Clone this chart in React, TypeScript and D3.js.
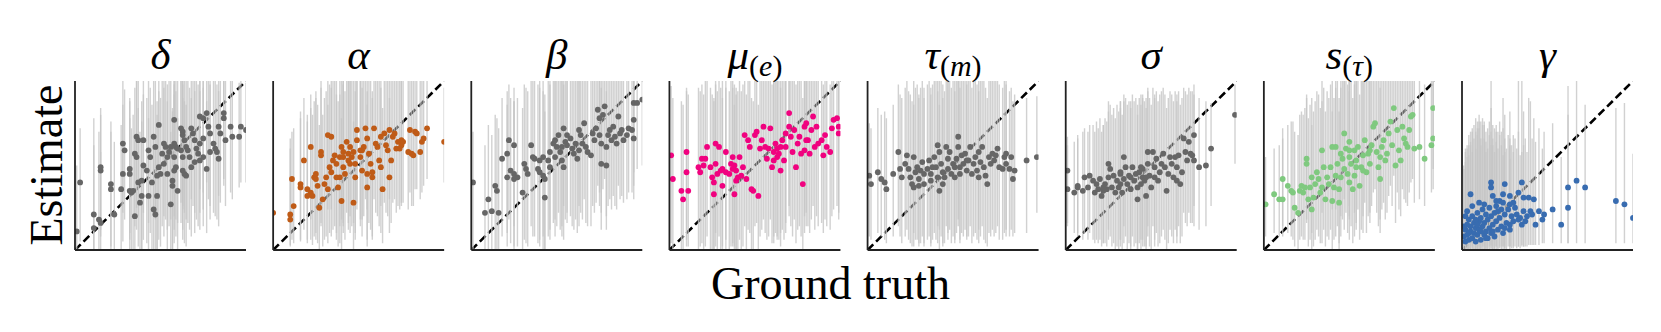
import React from "react";
import * as d3 from "d3";

// parameter panels, left to right
const panelNames = ["delta", "alpha", "beta", "mu", "tau", "sigma", "s", "gamma"];
const titleSymbols = ["δ", "α", "β", "μ", "τ", "σ", "s", "γ"];
const titleSubs = ["", "", "", "e", "m", "", "τ", ""];
const pointColors = ["#666666", "#bf5b17", "#666666", "#f0027f", "#666666", "#666666", "#7fc97f", "#386cb0"];

// [ground truth, estimate, interval low, interval high], all in percent of the axis range
const deltaPts = [
  [1,11,0,50],[3,40,5,72],[11,21,0,78],[11,13,0,62],[14,18,0,70],[15,16,0,58],[15,47,8,80],[15,49,12,84],[21,39,2,76],[21,36,0,70],
  [23,21,0,64],[28,63,22,100],[29,59,18,95],[28,45,5,86],[27,36,0,74],[32,45,6,88],[32,48,10,90],[32,35,0,78],[33,34,0,72],[34,35,0,80],
  [35,20,0,66],[36,67,25,100],[37,65,20,100],[35,57,14,96],[36,55,12,100],[37,40,2,84],[38,28,0,70],[39,41,0,88],[39,32,0,76],[40,65,22,100],
  [40,50,6,92],[42,47,4,90],[43,59,16,100],[44,55,10,96],[43,32,0,78],[45,40,0,86],[46,24,0,68],[46,67,24,100],[47,61,18,100],[47,21,0,62],
  [48,32,0,80],[49,74,30,100],[49,49,6,94],[50,45,2,90],[52,51,8,96],[51,57,14,100],[52,63,20,100],[53,61,18,100],[54,45,0,88],[55,58,14,100],
  [56,27,0,70],[57,41,0,84],[57,38,0,82],[58,47,4,92],[59,49,8,94],[58,77,34,100],[58,63,20,100],[59,61,18,100],[60,60,16,100],[60,35,0,78],
  [62,72,28,100],[63,70,26,100],[63,68,24,100],[64,65,22,100],[65,61,18,100],[66,59,16,100],[63,47,6,90],[64,45,4,88],[65,44,2,86],[68,72,30,100],
  [69,69,26,100],[70,65,22,100],[71,60,18,100],[72,57,14,98],[67,55,12,96],[73,79,36,100],[75,78,34,100],[73,53,12,94],[75,55,14,96],[77,81,40,100],
  [78,73,30,100],[79,69,26,100],[81,63,22,100],[82,60,20,100],[83,58,18,98],[84,54,14,94],[84,73,32,100],[77,48,10,88],[85,69,28,100],[87,81,42,100],
  [87,78,38,100],[88,65,26,100],[91,73,34,100],[92,67,30,100],[96,67,37,99],[97,73,40,100],[100,71,40,99],[62,59,16,100],[63,55,12,98],[56,61,18,100],
  [54,55,12,98],[73,63,22,100],[75,66,24,100],[79,58,18,98],[68,49,8,90],[70,52,10,94],[48,44,0,88],[58,55,12,98],
];

const alphaPts = [
  [0,22,0,60],[10,21,3,66],[10,18,2,60],[11,42,6,70],[12,26,4,72],[16,39,6,82],[16,37,5,78],[18,53,12,90],[20,36,6,80],[20,32,4,76],
  [22,34,6,84],[23,32,3,80],[22,61,18,92],[24,43,8,88],[25,45,10,94],[25,42,6,90],[26,38,4,86],[27,25,0,74],[28,58,16,100],[28,56,14,96],
  [29,30,2,80],[30,39,6,90],[31,43,8,94],[32,36,4,86],[32,68,24,100],[33,49,10,98],[34,46,8,96],[34,67,24,100],[35,53,12,100],[36,56,14,100],
  [37,51,10,100],[37,43,6,92],[38,37,2,88],[39,55,14,100],[40,29,0,78],[40,61,18,100],[41,58,16,100],[41,49,10,98],[42,45,6,94],[43,64,22,100],
  [44,53,12,100],[44,57,16,100],[45,51,10,100],[45,61,20,100],[47,58,16,100],[47,28,0,76],[48,43,6,94],[49,71,28,100],[49,65,24,100],[51,59,18,100],
  [51,55,14,100],[52,47,8,96],[53,61,20,100],[54,72,30,100],[55,37,2,86],[55,66,24,100],[56,57,16,100],[57,51,12,100],[58,46,8,94],[58,43,6,90],
  [59,72,30,100],[60,63,22,100],[61,61,20,100],[62,53,14,100],[63,49,10,96],[63,67,26,100],[64,36,4,84],[65,69,28,100],[66,62,22,100],[67,59,20,100],
  [68,43,10,90],[68,71,30,100],[69,53,16,100],[70,67,28,100],[71,69,30,100],[72,60,22,100],[73,64,26,100],[74,60,24,100],[75,65,28,100],[75,62,26,100],
  [76,64,28,100],[79,58,24,100],[80,71,34,100],[81,57,26,100],[82,56,26,100],[83,70,36,100],[84,69,36,100],[86,58,30,100],[87,64,34,100],[88,66,38,100],
  [90,72,42,100],[100,64,40,96],[41,55,14,100],[46,55,14,100],[52,59,18,100],[55,45,6,94],[39,43,4,92],[48,51,10,100],
];

const betaPts = [
  [1,40,0,70],[8,22,0,62],[12,23,0,68],[16,22,0,72],[10,30,0,74],[14,38,0,80],[15,35,0,78],[18,54,8,90],[21,57,10,94],[22,65,18,98],
  [25,62,14,96],[21,43,2,86],[23,47,4,90],[25,45,2,88],[25,42,0,88],[27,43,2,90],[30,34,0,84],[31,51,6,98],[32,48,4,96],[33,45,2,94],
  [35,62,14,100],[36,55,8,100],[37,54,8,100],[39,48,4,98],[40,46,2,96],[42,44,0,94],[43,42,0,92],[43,31,0,82],[40,53,6,100],[42,55,8,100],
  [45,53,8,100],[46,49,6,98],[46,58,12,100],[48,63,16,100],[49,65,18,100],[50,61,14,100],[51,68,22,100],[52,58,12,100],[53,53,8,100],[54,49,6,98],
  [54,72,26,100],[55,64,18,100],[56,62,16,100],[58,66,20,100],[59,60,14,100],[60,57,12,100],[61,63,18,100],[62,54,10,100],[63,71,26,100],[64,68,22,100],
  [65,63,18,100],[66,75,30,100],[67,61,16,100],[68,58,14,100],[70,56,14,100],[71,69,26,100],[72,65,22,100],[73,72,28,100],[74,83,38,100],[75,68,26,100],
  [75,78,34,100],[76,63,22,100],[77,80,36,100],[78,85,42,100],[76,51,12,96],[79,50,12,94],[79,61,20,100],[80,68,26,100],[81,71,30,100],[82,65,24,100],
  [83,73,32,100],[84,67,26,100],[85,63,24,100],[86,79,38,100],[87,69,30,100],[88,71,32,100],[89,65,28,100],[91,68,30,100],[92,72,34,100],[94,71,34,100],
  [95,77,38,100],[95,87,46,100],[97,87,48,100],[95,66,30,100],[100,89,50,100],[53,61,14,100],[56,68,22,100],[49,55,8,100],[63,59,14,100],
];

const muPts = [
  [1,56,4,97],[2,42,0,90],[7,35,0,88],[8,30,0,86],[11,35,2,92],[10,58,6,96],[10,46,2,94],[17,49,0,96],[18,46,2,94],[19,54,4,98],
  [21,54,2,100],[20,50,0,92],[22,61,8,100],[24,49,0,96],[25,43,0,92],[26,40,0,90],[26,33,0,88],[27,51,2,98],[27,63,10,100],[28,45,0,94],
  [29,61,8,100],[30,47,0,96],[31,48,2,100],[31,38,0,90],[33,58,6,100],[33,46,0,96],[35,45,0,94],[36,51,2,100],[37,55,4,100],[38,50,2,98],
  [38,33,0,86],[39,41,0,92],[39,47,0,96],[40,43,0,94],[41,55,6,100],[42,44,0,94],[43,49,2,98],[44,68,14,100],[45,42,0,92],[46,65,12,100],
  [47,61,10,100],[48,36,0,90],[49,35,0,88],[50,68,14,100],[51,70,16,100],[52,32,0,86],[53,60,8,100],[54,65,12,100],[55,73,18,100],[56,61,10,100],
  [57,54,6,100],[58,60,8,100],[59,72,18,100],[60,49,4,98],[61,58,8,100],[62,63,10,100],[63,60,8,100],[63,55,6,100],[64,57,6,100],[65,47,2,96],
  [66,65,12,100],[67,53,6,100],[68,61,10,100],[68,69,16,100],[70,73,20,100],[70,81,26,100],[71,67,14,100],[72,58,8,100],[73,71,18,100],[74,49,4,98],
  [75,63,12,100],[76,67,14,100],[77,57,8,100],[78,39,0,90],[79,73,20,100],[79,59,10,100],[80,75,22,100],[81,65,14,100],[82,57,10,100],[83,71,18,100],
  [84,79,26,100],[85,61,12,100],[86,73,20,100],[87,63,14,100],[89,65,16,100],[90,56,10,98],[91,68,18,100],[92,61,14,100],[94,58,12,98],[95,72,20,100],
  [96,77,24,100],[98,78,26,100],[99,73,22,100],[99,69,18,100],[61,53,4,100],[65,61,10,100],[80,65,14,100],[37,48,2,96],
];

const tauPts = [
  [1,44,8,75],[2,39,6,72],[6,46,10,84],[8,42,8,80],[10,40,6,82],[11,36,4,78],[15,45,8,86],[18,58,14,98],[19,48,8,92],[20,43,4,90],
  [22,51,8,96],[23,56,12,100],[24,48,6,94],[25,43,4,92],[26,39,2,88],[27,55,10,100],[27,37,2,86],[28,46,6,96],[29,49,6,98],[30,42,4,92],
  [30,38,2,90],[32,52,8,100],[33,45,4,96],[33,39,2,90],[35,48,6,98],[36,53,8,100],[37,45,4,96],[37,41,2,92],[39,55,10,100],[40,49,6,100],
  [41,43,4,94],[41,62,14,100],[42,35,0,86],[42,58,12,100],[43,51,8,100],[44,46,4,98],[45,43,4,94],[46,61,14,100],[47,54,10,100],[47,48,6,100],
  [48,58,12,100],[49,45,4,96],[50,51,8,100],[51,43,4,94],[52,54,10,100],[53,61,14,100],[53,67,18,100],[54,49,6,100],[54,45,4,96],[55,56,10,100],
  [56,51,8,100],[57,57,12,100],[58,47,6,98],[59,53,8,100],[60,61,14,100],[61,45,4,96],[62,51,8,100],[63,55,10,100],[64,47,6,98],[65,58,12,100],
  [65,43,4,94],[66,52,8,100],[67,61,14,100],[68,49,6,100],[69,44,4,96],[70,39,2,90],[71,55,10,100],[72,51,8,100],[73,57,12,100],[74,53,8,100],
  [75,56,10,100],[76,60,14,100],[77,49,6,98],[79,48,6,96],[80,55,10,100],[81,57,12,100],[81,51,8,98],[83,48,8,94],[84,55,12,96],[85,42,8,88],
  [86,47,10,92],[93,53,10,90],[99,55,22,91],[31,47,4,96],[44,39,2,90],[51,49,6,100],[38,49,6,98],[58,53,8,100],
];

const sigmaPts = [
  [1,47,16,67],[1,36,14,62],[5,34,10,64],[7,38,10,68],[7,37,8,66],[10,35,6,70],[11,43,10,72],[13,37,6,70],[14,44,10,74],[16,41,6,74],
  [17,34,4,70],[18,39,6,76],[19,36,4,72],[20,42,6,78],[21,32,2,70],[22,35,4,74],[23,39,4,78],[24,36,2,76],[25,43,6,82],[25,51,12,88],
  [26,48,8,86],[27,37,2,80],[28,44,4,84],[29,34,0,78],[30,41,2,86],[31,37,0,82],[32,39,2,84],[32,45,6,88],[33,34,0,80],[34,42,4,88],
  [34,55,14,92],[35,49,8,90],[36,39,0,86],[37,44,4,88],[38,36,0,84],[39,49,8,92],[40,41,2,88],[41,45,4,90],[42,30,0,80],[42,37,0,86],
  [43,46,4,90],[44,49,6,92],[45,43,2,90],[45,48,6,92],[46,41,2,88],[47,32,0,84],[48,51,8,94],[48,58,14,96],[49,44,2,90],[50,37,0,86],
  [51,58,14,96],[52,49,6,92],[52,43,2,90],[53,54,10,94],[54,41,2,88],[55,46,4,92],[56,51,8,94],[57,57,12,96],[58,49,6,92],[59,35,0,84],
  [60,45,4,90],[61,55,12,94],[62,51,8,92],[63,43,4,88],[64,55,12,94],[65,49,8,92],[65,41,4,88],[66,56,14,94],[67,39,4,86],[68,46,8,90],
  [69,66,22,96],[70,58,16,94],[71,53,14,92],[72,64,22,96],[73,57,16,94],[74,56,16,94],[75,53,14,92],[75,68,26,98],[78,49,12,90],[82,50,14,88],
  [85,60,26,87],[99,80,51,98],[38,43,2,88],[44,39,0,86],[32,46,6,88],[47,43,2,90],[22,37,4,74],
];

const sTauPts = [
  [1,27,8,55],[6,33,10,60],[9,30,8,62],[11,30,8,66],[11,42,14,72],[14,38,10,74],[16,35,8,76],[17,34,6,76],[18,25,2,70],[20,22,0,68],
  [21,35,6,80],[22,38,8,82],[23,34,6,80],[24,37,6,84],[25,51,16,90],[25,54,18,92],[26,30,2,78],[27,37,6,86],[28,43,10,90],[28,24,0,74],
  [29,31,2,82],[30,39,6,88],[31,46,12,94],[32,42,8,92],[33,34,4,84],[34,59,22,100],[34,37,4,88],[35,49,12,96],[36,30,2,82],[37,43,8,94],
  [38,39,6,90],[39,49,12,98],[40,61,24,100],[40,29,0,82],[41,37,6,90],[42,44,8,96],[42,61,24,100],[43,51,14,100],[44,36,4,90],[44,28,0,82],
  [45,57,20,100],[46,54,18,100],[47,48,12,100],[47,69,30,100],[48,60,22,100],[49,45,10,98],[50,64,26,100],[50,40,6,94],[50,55,18,100],[51,51,14,100],
  [52,36,4,90],[53,59,22,100],[53,44,8,98],[54,53,16,100],[55,61,24,100],[56,38,6,92],[57,49,12,100],[58,56,20,100],[59,65,28,100],[60,46,10,100],
  [61,57,20,100],[62,51,16,100],[63,62,26,100],[64,73,34,100],[65,75,36,100],[66,58,22,100],[67,49,14,100],[68,42,10,96],[68,55,18,100],[69,61,24,100],
  [70,65,28,100],[71,53,18,100],[72,57,22,100],[73,69,32,100],[74,76,38,100],[75,62,26,100],[76,84,44,100],[77,50,16,100],[78,71,34,100],[79,59,24,100],
  [80,53,20,100],[81,73,36,100],[82,66,30,100],[83,63,28,100],[84,61,26,100],[85,71,34,100],[86,79,40,100],[87,80,42,100],[88,60,28,100],[91,61,30,100],
  [94,54,26,98],[98,62,34,100],[99,66,36,100],[99,84,48,100],[50,59,20,100],[54,49,12,100],[45,43,8,96],[62,59,22,100],[58,47,10,100],
];

const gammaPts = [
  [5,33,2,62],[17,40,3,100],[25,39,2,80],[35,40,3,100],[17,37,2,84],[18,32,2,74],[24,33,2,90],[33,34,2,100],[39,31,3,90],[42,30,3,78],
  [20,29,2,70],[22,29,2,76],[24,28,2,72],[28,32,2,82],[30,28,2,68],[36,31,2,82],[40,23,3,88],[41,21,3,66],[45,23,3,72],[47,18,4,60],
  [48,21,4,70],[53,24,4,75],[58,15,4,55],[62,37,4,97],[62,25,4,80],[67,41,4,100],[72,37,4,86],[90,29,4,84],[95,27,4,87],[100,19,4,57],
  [28,15,2,62],[33,18,2,70],[35,15,2,58],[37,17,2,66],[43,15,3,64],
  [1,8,0,48],[2,5,0,52],[2,12,0,58],[3,15,0,60],[3,9,0,55],[4,6,0,62],[4,18,1,68],[5,11,0,64],[5,14,0,70],[6,7,0,58],
  [6,20,1,72],[7,10,0,66],[7,16,0,74],[8,5,0,60],[8,13,0,78],[9,22,1,76],[9,9,0,68],[10,17,0,80],[10,12,0,72],[11,6,0,62],
  [11,19,1,76],[12,14,0,74],[12,24,2,78],[13,9,0,66],[13,16,0,76],[14,21,1,70],[14,11,0,64],[15,7,0,60],[15,18,1,72],[16,13,0,68],
  [16,25,2,76],[17,10,0,62],[17,20,1,70],[18,15,0,66],[19,22,1,72],[19,8,0,58],[20,17,0,64],[20,26,2,74],[21,12,0,60],[22,19,1,68],
  [23,14,0,62],[23,24,2,70],[24,10,0,56],[25,21,1,66],[26,16,0,60],[27,24,2,68],[28,12,0,54],[29,20,1,62],[30,17,1,58],[31,25,2,66],
  [32,21,1,60],[34,19,1,56],[36,23,2,62],[38,20,2,58],[2,20,0,60],[1,14,0,50],[3,23,1,62],[6,26,2,70],[10,28,2,76],[13,27,2,74],
  [4,10,0,56],[8,18,0,70],[9,15,0,72],[11,11,0,66],[14,7,0,58],[18,11,0,62],[21,23,1,70],[25,13,0,58],[28,27,2,66],
];

const panelData = [deltaPts, alphaPts, betaPts, muPts, tauPts, sigmaPts, sTauPts, gammaPts];

const width = 1661;
const height = 332;
const plotTop = 81;
const plotH = 169;
const serif = "'Liberation Serif', 'Times New Roman', serif";

export default function App() {
  const band = d3.scaleBand<string>().domain(panelNames).range([75, 1633]).paddingInner(0.137);
  const w = band.bandwidth();
  const x = d3.scaleLinear().domain([0, 100]).range([0, w]);
  const y = d3.scaleLinear().domain([0, 100]).range([plotH, 0]);
  const diag = d3.line<number[]>().x((d) => x(d[0])).y((d) => y(d[1]));

  return (
    <svg width={width} height={height} style={{ position: "absolute", left: 0, top: 0, background: "#fff" }}>
      <defs>
        <clipPath id="plotClip">
          <rect x={0} y={0} width={w} height={plotH} />
        </clipPath>
      </defs>
      {panelNames.map((name, i) => {
        const pts = panelData[i];
        const cx = w / 2;
        return (
          <g key={name} transform={`translate(${band(name)},${plotTop})`}>
            <g clipPath="url(#plotClip)">
              <path d={diag([[0, 0], [100, 100]]) || ""} stroke="#000" strokeWidth={2.6} strokeDasharray="8,4" fill="none" />
              {pts.map((d, j) => (
                <line key={"e" + j} x1={x(d[0])} x2={x(d[0])} y1={y(d[2])} y2={y(d[3])} stroke="#c6c6c6" strokeOpacity={0.8} strokeWidth={1.4} />
              ))}
              {pts.map((d, j) => (
                <circle key={"p" + j} cx={x(d[0])} cy={y(d[1])} r={2.9} fill={pointColors[i]} />
              ))}
            </g>
            <line x1={0} x2={0} y1={0} y2={plotH} stroke="#222" strokeWidth={1.8} />
            <line x1={0} x2={w} y1={plotH} y2={plotH} stroke="#222" strokeWidth={1.8} />
            <text x={cx} y={-12} textAnchor="middle" fontFamily={serif} fontSize={43} fill="#000">
              <tspan fontStyle="italic">{titleSymbols[i]}</tspan>
              {titleSubs[i] && (
                <>
                  <tspan fontSize={30} dy={7}>(</tspan>
                  <tspan fontSize={30} fontStyle="italic">{titleSubs[i]}</tspan>
                  <tspan fontSize={30}>)</tspan>
                </>
              )}
            </text>
          </g>
        );
      })}
      <text x={width / 2} y={299} textAnchor="middle" fontFamily={serif} fontSize={46} fill="#000">
        Ground truth
      </text>
      <text transform="translate(62,165) rotate(-90)" textAnchor="middle" fontFamily={serif} fontSize={46} fill="#000">
        Estimate
      </text>
    </svg>
  );
}
